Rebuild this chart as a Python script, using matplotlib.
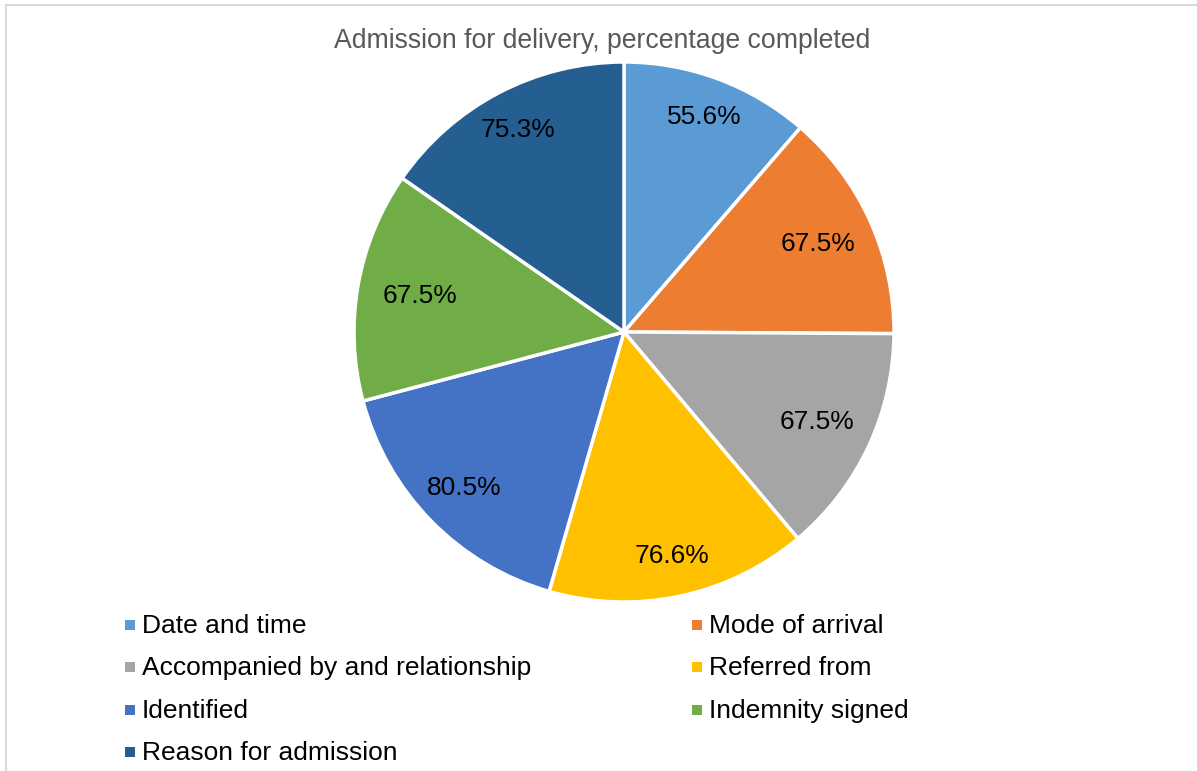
import numpy as np
import matplotlib.pyplot as plt
from matplotlib.patches import Rectangle
from matplotlib.lines import Line2D

plt.rcParams['font.family'] = ['Liberation Sans', 'DejaVu Sans']

# data
title = "Admission for delivery, percentage completed"
categories = ["Date and time", "Mode of arrival", "Accompanied by and relationship",
              "Referred from", "Identified", "Indemnity signed", "Reason for admission"]
values = [55.6, 67.5, 67.5, 76.6, 80.5, 67.5, 75.3]
colors = ["#5B9BD5", "#ED7D31", "#A5A5A5", "#FFC000", "#4472C4", "#70AD47", "#255E91"]

W, H = 1197, 771
fig = plt.figure(figsize=(W / 100, H / 100), dpi=100)

# pie axes: center (624, 332), radius 270 px
cx, cy, r = 624, 332, 270
ax = fig.add_axes([(cx - r) / W, 1 - (cy + r) / H, 2 * r / W, 2 * r / H])
wedges, texts = ax.pie(values, colors=colors, startangle=90, counterclock=False,
                       wedgeprops=dict(edgecolor='white', linewidth=2.5))
ax.set_aspect('equal')
ax.set_xlim(-1, 1)
ax.set_ylim(-1, 1)

# value labels (pulled in a little near the horizontal, like excel best fit)
total = sum(values)
ang = 90.0
for v in values:
    span = v / total * 360
    mid = np.deg2rad(ang - span / 2)
    ang -= span
    d = 0.85 - 0.09 * abs(np.cos(mid)) ** 4
    ax.text(d * np.cos(mid), d * np.sin(mid), f"{v:.1f}%",
            ha='center', va='center', fontsize=19, color='black')

fig.text(602 / W, 1 - 41 / H, title, ha='center', va='center', fontsize=19.2, color='#595959')

# legend, row-wise in two columns
col_x = [125, 692]
row_y = [625, 667, 710, 752]
for i, (lab, c) in enumerate(zip(categories, colors)):
    x = col_x[i % 2]
    y = row_y[i // 2]
    fig.add_artist(Rectangle((x / W, 1 - (y + 5) / H), 10 / W, 10 / H,
                             transform=fig.transFigure, facecolor=c, edgecolor='none'))
    fig.text((x + 17) / W, 1 - (y + 1) / H, lab, ha='left', va='center', fontsize=19, color='black')

# chart border (top and left edges visible)
fig.add_artist(Line2D([5.5 / W, 5.5 / W, 1], [0, 1 - 4.5 / H, 1 - 4.5 / H],
                      transform=fig.transFigure, color='#D9D9D9', linewidth=1.5))

fig.savefig('out.png', dpi=100)
